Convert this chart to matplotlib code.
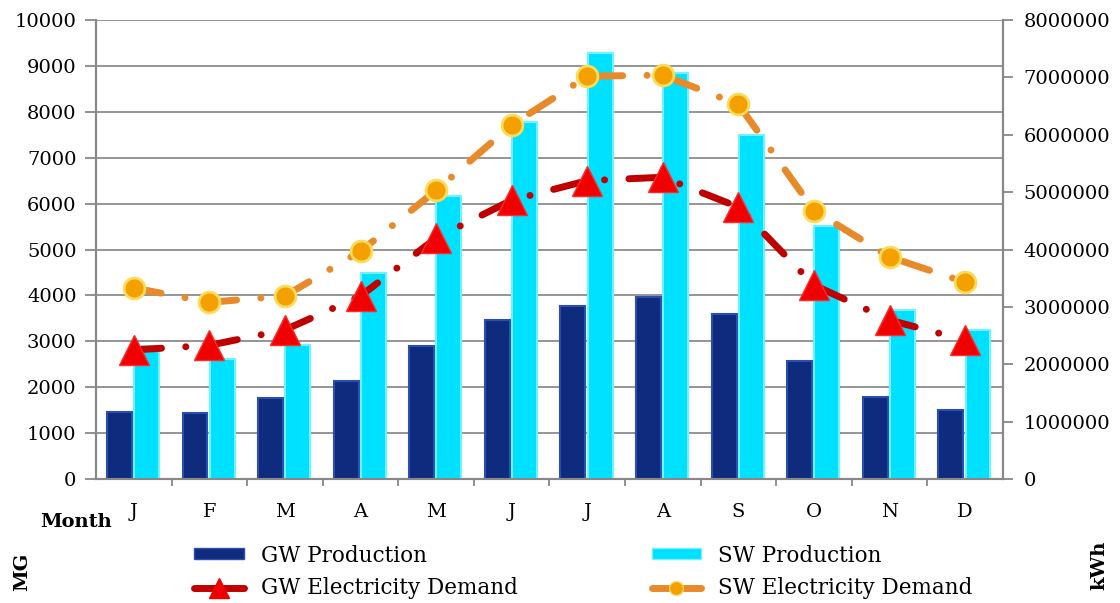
import matplotlib
matplotlib.use("Agg")
import matplotlib.pyplot as plt
import numpy as np
from matplotlib.lines import Line2D
from matplotlib.patches import Patch
from matplotlib.ticker import MultipleLocator, FixedLocator, FuncFormatter

months = ["J", "F", "M", "A", "M", "J", "J", "A", "S", "O", "N", "D"]
gw_production = [1460, 1440, 1760, 2140, 2900, 3470, 3770, 3960, 3600, 2580, 1790, 1500]
sw_production = [2900, 2610, 2920, 4480, 6170, 7780, 9280, 8850, 7490, 5510, 3680, 3250]
gw_demand = [2250000, 2330000, 2600000, 3190000, 4200000, 4860000,
             5200000, 5260000, 4740000, 3380000, 2770000, 2420000]
sw_demand = [3330000, 3080000, 3190000, 3970000, 5030000, 6170000,
             7020000, 7040000, 6530000, 4680000, 3870000, 3430000]

plt.rcParams["font.family"] = ["DejaVu Serif"]
plt.rcParams["font.size"] = 14

fig = plt.figure(figsize=(11.2, 6.03), dpi=100)
ax = fig.add_axes([0.0857, 0.2056, 0.8098, 0.7612])
ax2 = ax.twinx()

x = np.arange(len(months))
w = 0.33
ax.bar(x - 0.19, gw_production, width=w, color="#0f2b7e", edgecolor="#2a4fb0",
       linewidth=1.5, zorder=3)
ax.bar(x + 0.17, sw_production, width=w, color="#00e0ff", edgecolor="#6ff4ff",
       linewidth=1.5, zorder=3)

ax.set_xlim(-0.5, 11.5)
ax.set_ylim(0, 10000)
ax.yaxis.set_major_locator(MultipleLocator(1000))
ax.set_xticks(x)
ax.set_xticklabels(months)
ax.xaxis.set_minor_locator(FixedLocator(np.arange(0.5, 11.5, 1.0)))
ax.tick_params(axis="x", which="major", length=0, pad=17, labelsize=14)
ax.tick_params(axis="x", which="minor", length=5, color="#888888", width=1.3)
ax.tick_params(axis="y", length=8, color="#888888", width=1.3, labelsize=14, pad=6)
ax.grid(axis="y", color="#8c8c8c", linewidth=1.3, zorder=0)
ax.set_axisbelow(True)

dash = (0, (4.0, 3.5, 0.01, 3.5))
ax2.plot(x, gw_demand, color="#c00000", linewidth=5, linestyle=dash,
         dash_capstyle="round", zorder=4)
ax2.plot(x, gw_demand, linestyle="none", marker="^", markersize=21,
         markerfacecolor="#f00000", markeredgecolor="#ff2a2a", zorder=5)
ax2.plot(x, sw_demand, color="#e8892a", linewidth=5, linestyle=dash,
         dash_capstyle="round", zorder=4)
ax2.plot(x, sw_demand, linestyle="none", marker="o", markersize=15,
         markerfacecolor="#f4a000", markeredgecolor="#f9dc5a",
         markeredgewidth=2, zorder=5)
ax2.set_ylim(0, 8000000)
ax2.yaxis.set_major_locator(MultipleLocator(1000000))
ax2.yaxis.set_major_formatter(FuncFormatter(lambda v, p: f"{int(v)}"))
ax2.tick_params(axis="y", length=7, color="#888888", width=1.3, labelsize=14, pad=8)

for a in (ax, ax2):
    a.spines["top"].set_visible(False)
    for s in ("left", "right", "bottom"):
        a.spines[s].set_color("#888888")
        a.spines[s].set_linewidth(1.5)

fig.text(0.036, 0.134, "Month", fontsize=14, fontweight="bold", ha="left", va="center")
fig.text(0.020, 0.052, "MG", fontsize=14, fontweight="bold", rotation=90,
         ha="center", va="center")
fig.text(0.982, 0.062, "kWh", fontsize=14, fontweight="bold", rotation=90,
         ha="center", va="center")

handles = [
    Patch(facecolor="#0f2b7e", edgecolor="#2a4fb0"),
    Line2D([], [], color="#c00000", linewidth=5, linestyle="-",
           marker="^", markersize=14, markerfacecolor="#f00000",
           markeredgecolor="#f00000", solid_capstyle="round"),
    Patch(facecolor="#00e0ff", edgecolor="#6ff4ff"),
    Line2D([], [], color="#e8892a", linewidth=5, linestyle="-",
           marker="o", markersize=10, markerfacecolor="#f4a000",
           markeredgecolor="#f9dc5a", solid_capstyle="round"),
]
labels = ["GW Production", "GW Electricity Demand", "SW Production",
          "SW Electricity Demand"]
fig.legend(handles, labels, ncol=2, loc="center", bbox_to_anchor=(0.521, 0.0514),
           frameon=False, fontsize=15.5, handlelength=2.3, handleheight=0.4,
           columnspacing=6.2, labelspacing=0.5, handletextpad=0.8)

fig.savefig("out.png", dpi=100)
